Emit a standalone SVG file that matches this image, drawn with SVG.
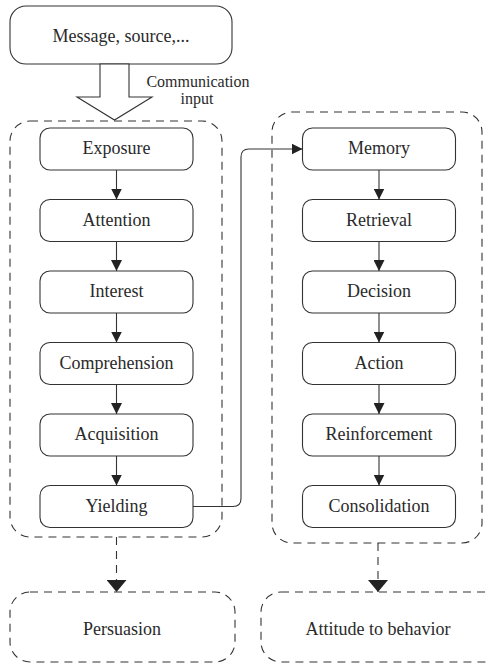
<svg xmlns="http://www.w3.org/2000/svg" width="487" height="663" viewBox="0 0 487 663">
<defs>
<style>
.node rect{fill:#fff;stroke:#333;stroke-width:1.1}
.group rect{fill:none;stroke:#333;stroke-width:1.1;stroke-dasharray:8 6}
text{font-family:'Liberation Serif','Times New Roman',serif;font-size:18px;fill:#2a2a2a;text-anchor:middle}
.small{font-size:16px}
.edge{fill:none;stroke:#333;stroke-width:1.1}
.dedge{fill:none;stroke:#333;stroke-width:1.1;stroke-dasharray:8 6}
</style>
<marker id="ah" markerUnits="userSpaceOnUse" markerWidth="11" markerHeight="11" refX="11" refY="5.5" orient="auto">
<path d="M0,0 L11,5.5 L0,11 z" fill="#222"/>
</marker>
<marker id="bh" markerUnits="userSpaceOnUse" markerWidth="12" markerHeight="20" refX="12" refY="10" orient="auto">
<path d="M0,0 L12,10 L0,20 z" fill="#222"/>
</marker>
</defs>
<rect width="487" height="663" fill="#fff"/>

<g id="group-left" class="group"><rect x="10" y="121" width="212" height="416" rx="20"/></g>
<g id="group-right" class="group"><rect x="272" y="112" width="210" height="431" rx="20"/></g>

<g id="source" class="node">
<rect x="10" y="6" width="222" height="58" rx="16"/>
<text x="121" y="42">Message, source,...</text>
</g>

<g id="comm-input">
<polygon points="100,64 129,64 129,97 152,97 114.5,120 77,97 100,97" fill="#fff" stroke="#333" stroke-width="1.1"/>
<text class="small" x="198" y="87">Communication</text>
<text class="small" x="197" y="104">input</text>
</g>

<g id="exposure" class="node"><rect x="40" y="128" width="153" height="42" rx="10"/><text x="116.5" y="154">Exposure</text></g>
<g id="attention" class="node"><rect x="40" y="199.5" width="153" height="42" rx="10"/><text x="116.5" y="225.5">Attention</text></g>
<g id="interest" class="node"><rect x="40" y="271" width="153" height="42" rx="10"/><text x="116.5" y="297">Interest</text></g>
<g id="comprehension" class="node"><rect x="40" y="342.5" width="153" height="42" rx="10"/><text x="116.5" y="368.5">Comprehension</text></g>
<g id="acquisition" class="node"><rect x="40" y="414" width="153" height="42" rx="10"/><text x="116.5" y="440">Acquisition</text></g>
<g id="yielding" class="node"><rect x="40" y="485.5" width="153" height="42" rx="10"/><text x="116.5" y="511.5">Yielding</text></g>

<g id="memory" class="node"><rect x="302.5" y="128" width="153" height="42" rx="10"/><text x="379" y="154">Memory</text></g>
<g id="retrieval" class="node"><rect x="302.5" y="199.5" width="153" height="42" rx="10"/><text x="379" y="225.5">Retrieval</text></g>
<g id="decision" class="node"><rect x="302.5" y="271" width="153" height="42" rx="10"/><text x="379" y="297">Decision</text></g>
<g id="action" class="node"><rect x="302.5" y="342.5" width="153" height="42" rx="10"/><text x="379" y="368.5">Action</text></g>
<g id="reinforcement" class="node"><rect x="302.5" y="414" width="153" height="42" rx="10"/><text x="379" y="440">Reinforcement</text></g>
<g id="consolidation" class="node"><rect x="302.5" y="485.5" width="153" height="42" rx="10"/><text x="379" y="511.5">Consolidation</text></g>

<g id="persuasion" class="group"><rect x="10" y="592" width="225" height="70" rx="20"/><text x="122" y="635">Persuasion</text></g>
<g id="attitude" class="group"><rect x="261" y="592" width="250" height="70" rx="20"/><text x="378" y="635">Attitude to behavior</text></g>

<g id="connectors">
<path class="edge" d="M116.5,170 V199.5" marker-end="url(#ah)"/>
<path class="edge" d="M116.5,241.5 V271" marker-end="url(#ah)"/>
<path class="edge" d="M116.5,313 V342.5" marker-end="url(#ah)"/>
<path class="edge" d="M116.5,384.5 V414" marker-end="url(#ah)"/>
<path class="edge" d="M116.5,456 V485.5" marker-end="url(#ah)"/>
<path class="edge" d="M379,170 V199.5" marker-end="url(#ah)"/>
<path class="edge" d="M379,241.5 V271" marker-end="url(#ah)"/>
<path class="edge" d="M379,313 V342.5" marker-end="url(#ah)"/>
<path class="edge" d="M379,384.5 V414" marker-end="url(#ah)"/>
<path class="edge" d="M379,456 V485.5" marker-end="url(#ah)"/>
<path class="edge" d="M193,506.5 H233 Q241,506.5 241,498.5 V157 Q241,149 249,149 H302.5" marker-end="url(#ah)"/>
<path class="dedge" d="M116.5,537 V592" marker-end="url(#bh)"/>
<path class="dedge" d="M378,543 V592" marker-end="url(#bh)"/>
</g>
</svg>
